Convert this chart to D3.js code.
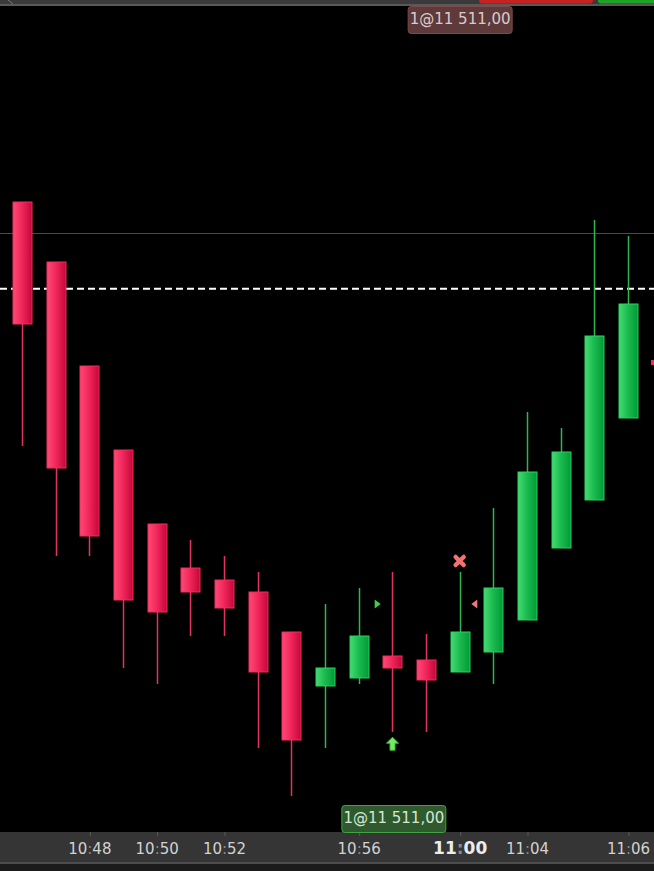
<!DOCTYPE html>
<html lang="en">
  <head>
    <meta charset="UTF-8" />
    <script src="https://cdnjs.cloudflare.com/ajax/libs/d3/7.8.5/d3.min.js"></script>
    <title>Candles</title>
    <style>
      html, body {
        margin: 0;
        padding: 0;
        background: #000;
        overflow: hidden;
      }
      text {
        font-family: "DejaVu Sans", sans-serif;
      }
    </style>
  </head>
  <body>
    <script>
      // one bar per slot
      const opens = [11480.75, 11473.25, 11460.25, 11449.75, 11440.5, 11435, 11433.5, 11432, 11427, 11420.25,
        11421.25, 11424, 11423.5, 11422, 11424.5, 11428.5, 11437.5, 11443.5, 11453.75];
      const highs = [11480.75, 11473.25, 11460.25, 11449.75, 11440.5, 11438.5, 11436.5, 11434.5, 11427, 11430.5,
        11432.5, 11434.5, 11426.75, 11434.5, 11442.5, 11454.5, 11452.5, 11478.5, 11476.5];
      const lows = [11450.25, 11436.5, 11436.5, 11422.5, 11420.5, 11426.5, 11426.5, 11412.5, 11406.5, 11412.5,
        11420.5, 11414.5, 11414.5, 11422, 11420.5, 11428.5, 11437.5, 11443.5, 11453.75];
      const closes = [11465.5, 11447.5, 11439, 11431, 11429.5, 11432, 11430, 11422, 11413.5, 11422.5,
        11426.5, 11422.5, 11421, 11427, 11432.5, 11447, 11449.5, 11464, 11468];

      const tickBars = [2, 4, 6, 10, 13, 15, 18];
      const tickLabels = ["10:48", "10:50", "10:52", "10:56", "11:00", "11:04", "11:06"];

      const blueLevel = 11476.875;
      const dashedLevel = 11470;
      const orderText = "1@11 511,00";
      const sellOrderBar = 13;
      const buyOrderBar = 11;

      // fills/markers: [bar, price]
      const exitMark = [13, 11435.875];
      const buyArrow = [11, 11413.1];
      const entryTriangle = [10, 11430.5];
      const exitTriangle = [14, 11430.5];
      const edgeMark = 11460.75;

      const width = 654;
      const height = 871;
      const plotBottom = 832;

      const bars = d3.range(opens.length).map(function (i) {
        return { i: i, o: opens[i], h: highs[i], l: lows[i], c: closes[i], up: closes[i] >= opens[i] };
      });

      const x = d3.scalePoint().domain(d3.range(bars.length)).range([22, 628]);
      const y = d3.scaleLinear().domain([11506, 11402]).range([0, plotBottom]);

      const svg = d3
        .select("body")
        .append("svg")
        .attr("width", width)
        .attr("height", height);

      const defs = svg.append("defs");
      function gradient(id, stops) {
        const g = defs.append("linearGradient").attr("id", id)
          .attr("x1", "0%").attr("x2", "100%").attr("y1", "0%").attr("y2", "0%");
        stops.forEach(function (s) {
          g.append("stop").attr("offset", s[0]).attr("stop-color", s[1]);
        });
      }
      gradient("redBody", [["0%", "#ff4a78"], ["45%", "#f2285c"], ["100%", "#c4063a"]]);
      gradient("greenBody", [["0%", "#44dc74"], ["45%", "#1cbc50"], ["100%", "#009a36"]]);

      svg.append("rect").attr("width", width).attr("height", height).attr("fill", "#000");

      // top strip
      svg.append("rect").attr("x", 0).attr("y", 0).attr("width", width).attr("height", 4).attr("fill", "#3a3a3a");
      svg.append("rect").attr("x", 0).attr("y", 4).attr("width", width).attr("height", 2).attr("fill", "#595959");
      svg.append("path").attr("d", "M8,0 L13,4").attr("stroke", "#777").attr("fill", "none");
      svg.append("rect").attr("x", 479).attr("y", -4).attr("width", 114).attr("height", 7.5)
        .attr("rx", 3).attr("fill", "#c62222");
      svg.append("rect").attr("x", 598).attr("y", -4).attr("width", 70).attr("height", 7.5)
        .attr("rx", 3).attr("fill", "#1ea324");

      // level lines
      svg.append("line")
        .attr("x1", 0).attr("x2", width)
        .attr("y1", Math.round(y(blueLevel)) + 0.5).attr("y2", Math.round(y(blueLevel)) + 0.5)
        .attr("stroke", "#3346a8").attr("stroke-width", 1);

      svg.append("line")
        .attr("x1", 0).attr("x2", width)
        .attr("y1", y(dashedLevel) + 0.7).attr("y2", y(dashedLevel) + 0.7)
        .attr("stroke", "#fff").attr("stroke-width", 2)
        .attr("stroke-dasharray", "7,4");

      // wicks
      svg.append("g")
        .selectAll("line")
        .data(bars)
        .enter()
        .append("line")
        .attr("x1", function (d) { return Math.round(x(d.i)) + 0.5; })
        .attr("x2", function (d) { return Math.round(x(d.i)) + 0.5; })
        .attr("y1", function (d) { return y(d.h); })
        .attr("y2", function (d) { return y(d.l); })
        .attr("stroke", function (d) { return d.up ? "#2eb552" : "#e23460"; })
        .attr("stroke-width", 1.5);

      // bodies
      svg.append("g")
        .selectAll("rect")
        .data(bars)
        .enter()
        .append("rect")
        .attr("x", function (d) { return Math.round(x(d.i)) - 9; })
        .attr("width", 19)
        .attr("y", function (d) { return y(Math.max(d.o, d.c)); })
        .attr("height", function (d) { return Math.max(2, y(Math.min(d.o, d.c)) - y(Math.max(d.o, d.c))); })
        .attr("fill", function (d) { return d.up ? "url(#greenBody)" : "url(#redBody)"; })
        .attr("stroke", function (d) { return d.up ? "#2fcf5e" : "#ee2e5c"; })
        .attr("stroke-width", 1);

      // trade markers
      const mx = x(exitMark[0]), my = y(exitMark[1]);
      svg.append("path")
        .attr("d", `M${mx - 4},${my - 4} L${mx + 4},${my + 4} M${mx + 4},${my - 4} L${mx - 4},${my + 4}`)
        .attr("stroke", "#f27272").attr("stroke-width", 4.5).attr("stroke-linecap", "round");

      const ax = Math.round(x(buyArrow[0])) + 0.5, ay = y(buyArrow[1]) - 6;
      svg.append("path")
        .attr("d", `M${ax},${ay} L${ax + 6},${ay + 6} L${ax + 2.5},${ay + 6} L${ax + 2.5},${ay + 13}
          L${ax - 2.5},${ay + 13} L${ax - 2.5},${ay + 6} L${ax - 6},${ay + 6} Z`)
        .attr("fill", "#72ec5e").attr("stroke", "#3cb83c").attr("stroke-width", 1);

      const tx = x(entryTriangle[0]) + 16, ty = y(entryTriangle[1]);
      svg.append("path")
        .attr("d", `M${tx},${ty - 4.5} L${tx + 6},${ty} L${tx},${ty + 4.5} Z`)
        .attr("fill", "#3ed04a");

      const sx = x(exitTriangle[0]) - 16, sy = y(exitTriangle[1]);
      svg.append("path")
        .attr("d", `M${sx},${sy - 4.5} L${sx - 6},${sy} L${sx},${sy + 4.5} Z`)
        .attr("fill", "#f07878");

      svg.append("rect").attr("x", 651).attr("y", y(edgeMark) - 2).attr("width", 4).attr("height", 5)
        .attr("fill", "#e8305c");

      // order labels
      function orderTag(cx, top, fill, stroke, color) {
        const g = svg.append("g");
        g.append("rect")
          .attr("x", cx - 52).attr("y", top).attr("width", 104).attr("height", 27)
          .attr("rx", 3).attr("fill", fill).attr("stroke", stroke).attr("stroke-width", 1);
        g.append("text")
          .attr("x", cx).attr("y", top + 17)
          .attr("text-anchor", "middle")
          .attr("font-size", 15)
          .attr("fill", color)
          .text(orderText);
      }
      orderTag(x(sellOrderBar) + 0.5, 6.5, "#5e3a3a", "#7e4a4a", "#dccaca");

      // time axis
      const axisG = svg.append("g").attr("transform", `translate(0,${plotBottom})`);
      axisG.append("rect").attr("x", 0).attr("y", 0).attr("width", width).attr("height", 30).attr("fill", "#353535");
      axisG.append("rect").attr("x", 0).attr("y", 30).attr("width", width).attr("height", 2).attr("fill", "#4c4c4c");
      axisG.append("rect").attr("x", 0).attr("y", 32).attr("width", width).attr("height", 10).attr("fill", "#1b1b1b");

      const axis = d3.axisBottom(x)
        .tickValues(tickBars)
        .tickSize(4)
        .tickFormat(function (d) { return tickLabels[tickBars.indexOf(d)]; });
      const ticks = axisG.append("g").call(axis);
      ticks.select(".domain").remove();
      ticks.selectAll(".tick line").attr("stroke", "#5a5a5a").attr("transform", "translate(0.5,0)");
      ticks.selectAll(".tick text").each(function (d) {
        const label = tickLabels[tickBars.indexOf(d)];
        const parts = label.split(":");
        const bold = label === "11:00";
        const t = d3.select(this)
          .text(null)
          .attr("y", 22)
          .attr("dy", null)
          .attr("font-family", "DejaVu Sans, sans-serif")
          .attr("font-size", bold ? 17 : 15)
          .attr("font-weight", bold ? "bold" : "normal")
          .attr("fill", bold ? "#ececec" : "#d2d2d2");
        t.append("tspan").text(parts[0]);
        t.append("tspan").attr("fill", "#8a8a8a").text(":");
        t.append("tspan").text(parts[1]);
      });

      orderTag(x(buyOrderBar) + 1.5, 805.5, "#2e5a2e", "#3fa53f", "#d6e6d6");
    </script>
  </body>
</html>
